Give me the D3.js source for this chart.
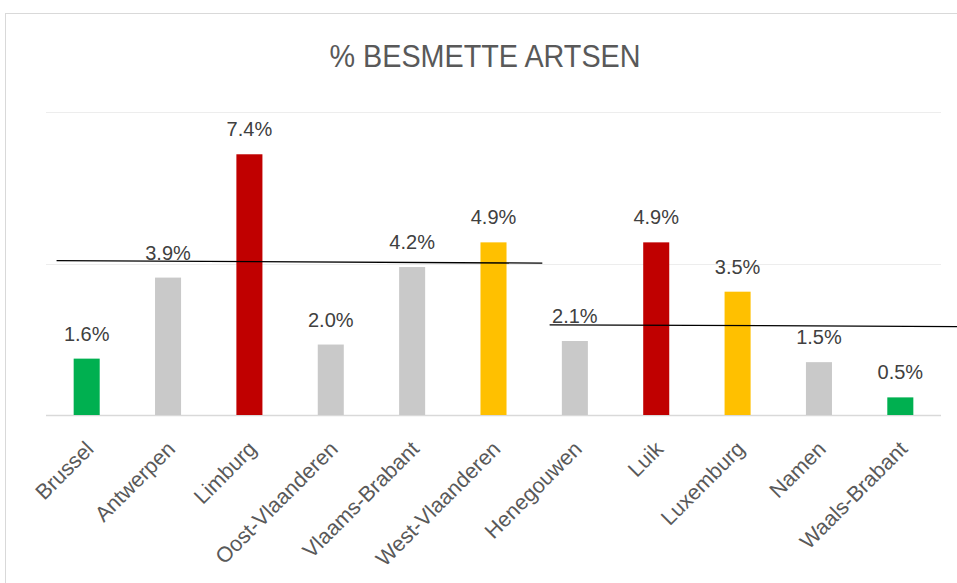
<!DOCTYPE html>
<html>
<head>
<meta charset="utf-8">
<script src="https://cdn.jsdelivr.net/npm/d3@7"></script>
<style>
  body { margin: 0; background: #fff; }
  svg { display: block; font-family: "Liberation Sans", Arial, sans-serif; }
</style>
</head>
<body>
<svg id="chart"></svg>
<script>
// data
const provinces = ["Brussel", "Antwerpen", "Limburg", "Oost-Vlaanderen", "Vlaams-Brabant",
  "West-Vlaanderen", "Henegouwen", "Luik", "Luxemburg", "Namen", "Waals-Brabant"];
const besmet = [1.6, 3.9, 7.4, 2.0, 4.2, 4.9, 2.1, 4.9, 3.5, 1.5, 0.5];
const kleurGroep = ["laag", "midden", "hoog", "midden", "midden", "verhoogd",
  "midden", "hoog", "verhoogd", "midden", "laag"];
const gridTicks = [0, 4.3, 8.6];
// hand drawn average lines (position in band units, value in %)
const gemLijnen = [
  { from: 0.13, to: 6.1, v0: 4.38, v1: 4.31 },
  { from: 6.19, to: 11.3, v0: 2.56, v1: 2.51 }
];

const kleuren = { laag: "#00B050", midden: "#C9C9C9", hoog: "#C00000", verhoogd: "#FFC000" };

const W = 957, H = 583;
const m = { top: 112, right: 16, bottom: 168, left: 46 };

const svg = d3.select("#chart").attr("width", W).attr("height", H);

// chart area border
svg.append("rect")
  .attr("x", 5.5).attr("y", 13.5)
  .attr("width", W + 10).attr("height", H + 10)
  .attr("fill", "none").attr("stroke", "#D9D9D9");

svg.append("text")
  .attr("x", 485).attr("y", 67)
  .attr("text-anchor", "middle")
  .attr("font-size", 31)
  .attr("textLength", 311).attr("lengthAdjust", "spacingAndGlyphs")
  .attr("fill", "#595959")
  .text("% BESMETTE ARTSEN");

const x = d3.scaleBand()
  .domain(provinces)
  .range([m.left, W - m.right])
  .paddingInner(0.68)
  .paddingOuter(0.34);

const y = d3.scaleLinear()
  .domain([0, 8.6])
  .range([H - m.bottom, m.top]);

// gridlines
svg.append("g")
  .selectAll("line")
  .data(gridTicks)
  .join("line")
  .attr("x1", m.left).attr("x2", W - m.right)
  .attr("y1", d => Math.round(y(d)) + 0.5).attr("y2", d => Math.round(y(d)) + 0.5)
  .attr("stroke", d => d === 0 ? "#D9D9D9" : "#EDEDED")
  .attr("stroke-width", d => d === 0 ? 1.5 : 1.2);

// bars
svg.append("g")
  .selectAll("rect")
  .data(provinces)
  .join("rect")
  .attr("x", d => x(d))
  .attr("width", x.bandwidth())
  .attr("y", (d, i) => y(besmet[i]))
  .attr("height", (d, i) => y(0) - y(besmet[i]))
  .attr("fill", (d, i) => kleuren[kleurGroep[i]]);

// value labels
svg.append("g")
  .selectAll("text")
  .data(provinces)
  .join("text")
  .attr("x", d => x(d) + x.bandwidth() / 2)
  .attr("y", (d, i) => y(besmet[i]) - 18)
  .attr("text-anchor", "middle")
  .attr("font-size", 20)
  .attr("fill", "#404040")
  .text((d, i) => besmet[i].toFixed(1) + "%");

// category labels
svg.append("g")
  .selectAll("text")
  .data(provinces)
  .join("text")
  .attr("transform", d => `translate(${x(d) + x.bandwidth() / 2 + 3},${y(0) + 30}) rotate(-45)`)
  .attr("text-anchor", "end")
  .attr("dy", "0.35em")
  .attr("font-size", 21.5)
  .attr("fill", "#595959")
  .text(d => d);

// average lines
const bx = d3.scaleLinear().domain([0, provinces.length]).range([m.left, W - m.right]);
svg.append("g")
  .selectAll("line")
  .data(gemLijnen)
  .join("line")
  .attr("x1", d => bx(d.from)).attr("x2", d => bx(d.to))
  .attr("y1", d => y(d.v0)).attr("y2", d => y(d.v1))
  .attr("stroke", "#000")
  .attr("stroke-width", 1.3);
</script>
</body>
</html>
